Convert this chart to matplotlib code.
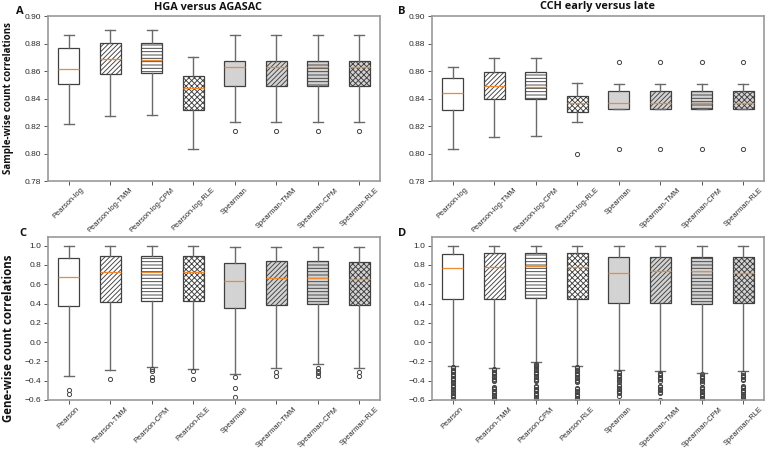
import matplotlib
matplotlib.use("Agg")
import matplotlib.pyplot as plt
from matplotlib.patches import Rectangle

# ---------------- data ----------------
methods_sample = ['Pearson-log', 'Pearson-log-TMM', 'Pearson-log-CPM', 'Pearson-log-RLE',
                  'Spearman', 'Spearman-TMM', 'Spearman-CPM', 'Spearman-RLE']
methods_gene = ['Pearson', 'Pearson-TMM', 'Pearson-CPM', 'Pearson-RLE',
                'Spearman', 'Spearman-TMM', 'Spearman-CPM', 'Spearman-RLE']

# Panel A: HGA versus AGASAC (sample-wise)
A_whislo = [0.8215, 0.8273, 0.8278, 0.8035, 0.8230, 0.8230, 0.8230, 0.8230]
A_q1 = [0.8508, 0.8580, 0.8588, 0.8316, 0.8493, 0.8493, 0.8493, 0.8493]
A_med = [0.8617, 0.8690, 0.8680, 0.8476, 0.8632, 0.8632, 0.8632, 0.8632]
A_q3 = [0.8767, 0.8806, 0.8806, 0.8566, 0.8673, 0.8673, 0.8673, 0.8673]
A_whishi = [0.8864, 0.8896, 0.8896, 0.8704, 0.8862, 0.8862, 0.8862, 0.8862]
A_fliers = [[], [], [], [], [0.8164], [0.8164], [0.8164], [0.8164]]

# Panel B: CCH early versus late (sample-wise)
B_whislo = [0.8034, 0.8123, 0.8128, 0.8229, 0.8321, 0.8321, 0.8321, 0.8321]
B_q1 = [0.8316, 0.8396, 0.8396, 0.8304, 0.8326, 0.8326, 0.8326, 0.8326]
B_med = [0.8440, 0.8488, 0.8481, 0.8370, 0.8367, 0.8367, 0.8367, 0.8367]
B_q3 = [0.8548, 0.8594, 0.8594, 0.8418, 0.8452, 0.8452, 0.8452, 0.8452]
B_whishi = [0.8626, 0.8693, 0.8693, 0.8512, 0.8507, 0.8507, 0.8507, 0.8507]
B_fliers = [[], [], [], [0.7993], [0.8034, 0.8669], [0.8034, 0.8669],
            [0.8034, 0.8669], [0.8034, 0.8669]]

# Panel C: HGA versus AGASAC (gene-wise)
C_whislo = [-0.355, -0.293, -0.255, -0.276, -0.328, -0.266, -0.228, -0.266]
C_q1 = [0.379, 0.417, 0.428, 0.428, 0.359, 0.390, 0.397, 0.390]
C_med = [0.676, 0.724, 0.728, 0.728, 0.634, 0.666, 0.666, 0.655]
C_q3 = [0.872, 0.897, 0.897, 0.897, 0.821, 0.838, 0.838, 0.834]
C_whishi = [1.0, 1.0, 1.0, 1.0, 0.983, 0.983, 0.983, 0.983]
C_fliers = [[-0.500, -0.535], [-0.386], [-0.279, -0.297, -0.360, -0.390],
            [-0.297, -0.383], [-0.359, -0.476, -0.566], [-0.310, -0.352],
            [-0.266, -0.300, -0.321, -0.352], [-0.310, -0.348]]

# Panel D: CCH early versus late (gene-wise)
D_whislo = [-0.245, -0.266, -0.210, -0.245, -0.293, -0.303, -0.317, -0.303]
D_q1 = [0.448, 0.445, 0.462, 0.452, 0.403, 0.403, 0.400, 0.403]
D_med = [0.769, 0.779, 0.790, 0.776, 0.717, 0.734, 0.734, 0.721]
D_q3 = [0.914, 0.921, 0.921, 0.921, 0.879, 0.879, 0.879, 0.879]
D_whishi = [1.0, 1.0, 1.0, 1.0, 1.0, 1.0, 1.0, 1.0]
D_fliers = [
    [-0.258, -0.271, -0.286, -0.298, -0.312, -0.327, -0.339, -0.352, -0.368, -0.381,
     -0.396, -0.410, -0.427, -0.441, -0.455, -0.470, -0.486, -0.499, -0.514, -0.530,
     -0.545, -0.561, -0.574, -0.590],
    [-0.279, -0.293, -0.306, -0.320, -0.334, -0.349, -0.362, -0.378, -0.392, -0.405,
     -0.462, -0.476, -0.489, -0.503, -0.517, -0.532, -0.546, -0.560, -0.575, -0.591],
    [-0.222, -0.236, -0.249, -0.263, -0.278, -0.292, -0.306, -0.321, -0.335, -0.350,
     -0.364, -0.379, -0.393, -0.408, -0.452, -0.467, -0.481, -0.495, -0.510, -0.525,
     -0.539, -0.553, -0.568, -0.582, -0.596],
    [-0.258, -0.272, -0.287, -0.301, -0.315, -0.330, -0.344, -0.359, -0.373, -0.388,
     -0.403, -0.417, -0.476, -0.490, -0.504, -0.519, -0.533, -0.548, -0.562, -0.577,
     -0.591],
    [-0.310, -0.324, -0.338, -0.352, -0.366, -0.381, -0.395, -0.409, -0.445, -0.460,
     -0.474, -0.489, -0.503, -0.518, -0.532, -0.560],
    [-0.316, -0.330, -0.344, -0.358, -0.372, -0.386, -0.400, -0.455, -0.470, -0.484,
     -0.498, -0.513, -0.527, -0.596],
    [-0.334, -0.348, -0.362, -0.376, -0.391, -0.405, -0.420, -0.463, -0.477, -0.491,
     -0.505, -0.520, -0.534, -0.549, -0.563, -0.578, -0.592],
    [-0.322, -0.336, -0.350, -0.365, -0.379, -0.394, -0.450, -0.465, -0.479, -0.493,
     -0.508, -0.522, -0.537, -0.555, -0.572, -0.590],
]

hatches = ['', '///////', '-----', 'xxxxxx', '', '///////', '-----', 'xxxxxx']
faces = ['white', 'white', 'white', 'white', '#d3d3d3', '#d3d3d3', '#d3d3d3', '#d3d3d3']

EDGE = '#404040'
WHISK = '#6a6a6a'
SPINE = '#9a9a9a'
plt.rcParams['hatch.linewidth'] = 0.65
plt.rcParams['font.family'] = ['Liberation Sans', 'DejaVu Sans']

W, H = 767, 450
fig = plt.figure(figsize=(W / 100, H / 100), dpi=100)


def ax_rect(left, top, right, bottom):
    return [left / W, 1 - bottom / H, (right - left) / W, (bottom - top) / H]


def make_stats(lo, q1, med, q3, hi, fl):
    return [dict(whislo=lo[i], q1=q1[i], med=med[i], q3=q3[i], whishi=hi[i], fliers=fl[i])
            for i in range(len(med))]


def draw(ax, stats, labels, ylim, yticks, yfmt):
    res = ax.bxp(stats, positions=range(1, len(stats) + 1), widths=0.5, patch_artist=True,
                 boxprops=dict(edgecolor=EDGE, linewidth=0.9),
                 whiskerprops=dict(color=WHISK, linewidth=1.0),
                 capprops=dict(color=WHISK, linewidth=1.0),
                 medianprops=dict(color='#ee8a33', linewidth=0.9),
                 flierprops=dict(marker='o', markersize=3.0, markerfacecolor='none',
                                 markeredgecolor='#444444', markeredgewidth=0.7))
    for box, fc, h in zip(res['boxes'], faces, hatches):
        box.set_facecolor(fc)
        box.set_hatch(h)
        box.set_edgecolor(EDGE)
    ax.set_ylim(*ylim)
    ax.set_xlim(0.5, len(stats) + 0.5)
    ax.set_yticks(yticks)
    ax.set_yticklabels([yfmt.format(v).replace('-', '\u2212') for v in yticks])
    ax.set_xticks(range(1, len(stats) + 1))
    ax.set_xticklabels(labels, rotation=45)
    ax.tick_params(axis='y', labelsize=6.0, length=3, width=0.7, color='#555555',
                   labelcolor='#2a2a2a', pad=2)
    ax.tick_params(axis='x', labelsize=5.4, length=3, width=0.7, color='#555555',
                   labelcolor='#2a2a2a', pad=1.0)
    for s in ax.spines.values():
        s.set_color(SPINE)
        s.set_linewidth(1.2)


axA = fig.add_axes(ax_rect(48, 16, 380, 181))
axB = fig.add_axes(ax_rect(432, 16, 764, 181))
axC = fig.add_axes(ax_rect(48, 237, 380, 400))
axD = fig.add_axes(ax_rect(432, 237, 764, 400))

yt_s = [0.78, 0.80, 0.82, 0.84, 0.86, 0.88, 0.90]
yt_g = [-0.6, -0.4, -0.2, 0.0, 0.2, 0.4, 0.6, 0.8, 1.0]

draw(axA, make_stats(A_whislo, A_q1, A_med, A_q3, A_whishi, A_fliers), methods_sample,
     (0.78, 0.90), yt_s, '{:.2f}')
draw(axB, make_stats(B_whislo, B_q1, B_med, B_q3, B_whishi, B_fliers), methods_sample,
     (0.78, 0.90), yt_s, '{:.2f}')
draw(axC, make_stats(C_whislo, C_q1, C_med, C_q3, C_whishi, C_fliers), methods_gene,
     (-0.6, 1.09), yt_g, '{:.1f}')
draw(axD, make_stats(D_whislo, D_q1, D_med, D_q3, D_whishi, D_fliers), methods_gene,
     (-0.6, 1.09), yt_g, '{:.1f}')

# the lower panels sit over the ends of the upper panels' tick labels
axC.set_zorder(2)
axD.set_zorder(2)
fig.add_artist(Rectangle((0, 0), 1, 1 - 232 / H, transform=fig.transFigure,
                         facecolor='white', edgecolor='none', zorder=1))

tfont = dict(family=['Open Sans', 'DejaVu Sans'], fontweight='bold', color='#111111')
fig.text(208 / W, 1 - 7 / H, 'HGA versus AGASAC', ha='center', va='center',
         fontsize=7.8, **tfont)
fig.text(597 / W, 1 - 7 / H, 'CCH early versus late', ha='center', va='center',
         fontsize=7.8, **tfont)
fig.text(9 / W, 1 - 98 / H, 'Sample-wise count correlations', rotation=90, ha='center',
         va='center', fontsize=7.0, **tfont)
fig.text(9 / W, 1 - 338 / H, 'Gene-wise count correlations', rotation=90, ha='center',
         va='center', fontsize=8.3, **tfont)
for lab, x, y in [('A', 20, 12), ('B', 402, 12), ('C', 23, 234), ('D', 402, 234)]:
    t = fig.text(x / W, 1 - y / H, lab, ha='center', va='center', fontsize=8.0, **tfont)
    t.set_zorder(5)

fig.savefig('out.png', dpi=100)
